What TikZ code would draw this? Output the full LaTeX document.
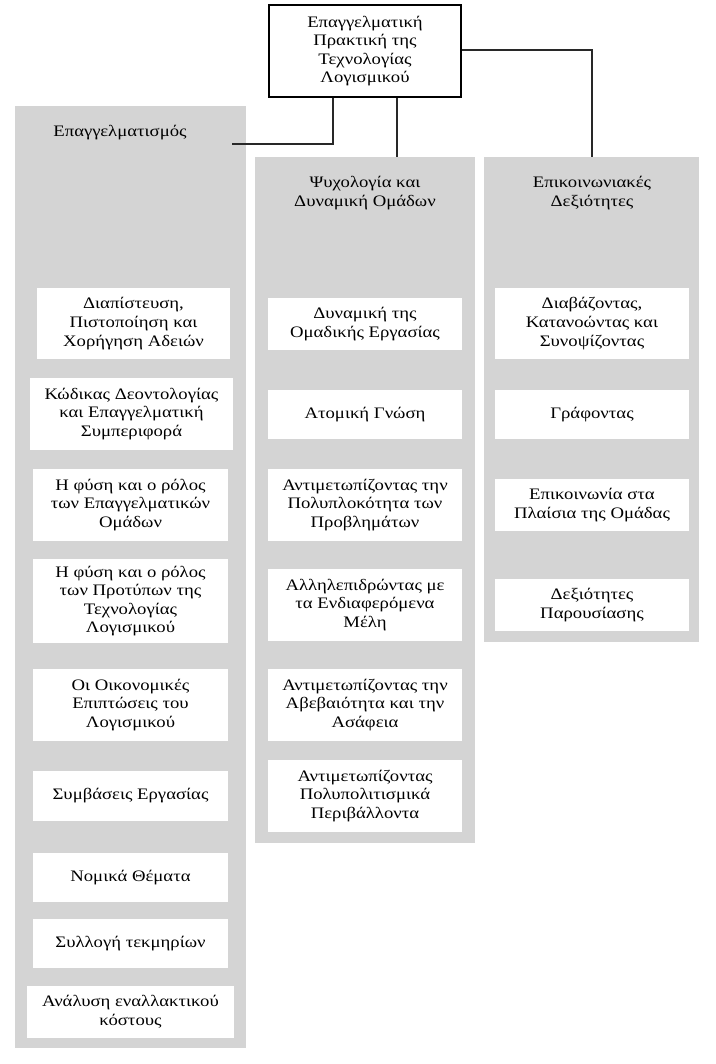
\documentclass[tikz,border=0pt]{standalone}
\usepackage{fontspec}
\setmainfont[FakeStretch=1.17]{Liberation Serif}
\definecolor{panelgray}{RGB}{212,212,212}
\definecolor{linkgray}{RGB}{40,40,40}
\begin{document}
\begin{tikzpicture}[x=1pt,y=-1pt,
  txt/.style={font=\fontsize{16}{18.6}\selectfont, align=center, inner sep=0pt},
  panel/.style={fill=panelgray, draw=none, inner sep=0pt},
  topbox/.style={txt, draw=black, line width=1.3pt, fill=white},
  itembox/.style={txt, fill=white, draw=none, minimum width=194pt},
  link/.style={draw=linkgray, line width=1.3pt}]
\useasboundingbox (0,0) rectangle (715,1064);

% root
\node[topbox, minimum width=192pt, minimum height=92pt] (root) at (365,51)
  {Επαγγελματική\\Πρακτική της\\Τεχνολογίας\\Λογισμικού};

% grey columns
\node[panel, minimum width=231pt, minimum height=942pt] (colA) at (130.5,577) {};
\node[panel, minimum width=220pt, minimum height=686pt] (colB) at (365,500) {};
\node[panel, minimum width=215pt, minimum height=485pt] (colC) at (591.5,399.5) {};

% column titles
\node[txt] (tA) at (120,133) {Επαγγελματισμός};
\node[txt] (tB) at (365,193) {Ψυχολογία και\\Δυναμική Ομάδων};
\node[txt] (tC) at (592,193) {Επικοινωνιακές\\Δεξιότητες};

% connectors
\coordinate (endA) at (232,144);
\draw[link] (root.south -| 333,0) -- (333,144) -- (endA);
\draw[link] (root.south -| 397,0) -- (colB.north -| 397,0);
\draw[link] (root.east |- 0,50) -- (592,50) -- (colC.north -| 592,0);

% first column
\node[itembox, minimum width=193pt, minimum height=71pt] (a1) at (133.5,323.5) {Διαπίστευση,\\Πιστοποίηση και\\Χορήγηση Αδειών};
\node[itembox, minimum width=203pt, minimum height=72pt] (a2) at (131.5,414) {Κώδικας Δεοντολογίας\\και Επαγγελματική\\Συμπεριφορά};
\node[itembox, minimum width=195pt, minimum height=72pt] (a3) at (130.5,505) {Η φύση και ο ρόλος\\των Επαγγελματικών\\Ομάδων};
\node[itembox, minimum width=195pt, minimum height=84pt] (a4) at (130.5,601) {Η φύση και ο ρόλος\\των Προτύπων της\\Τεχνολογίας\\Λογισμικού};
\node[itembox, minimum width=195pt, minimum height=72pt] (a5) at (130.5,705) {Οι Οικονομικές\\Επιπτώσεις του\\Λογισμικού};
\node[itembox, minimum width=195pt, minimum height=50pt] (a6) at (130.5,796) {Συμβάσεις Εργασίας};
\node[itembox, minimum width=195pt, minimum height=49pt] (a7) at (130.5,877.5) {Νομικά Θέματα};
\node[itembox, minimum width=195pt, minimum height=49pt] (a8) at (130.5,943.5) {Συλλογή τεκμηρίων};
\node[itembox, minimum width=207pt, minimum height=52pt] (a9) at (130.5,1012) {Ανάλυση εναλλακτικού\\κόστους};

% second column
\node[itembox, minimum height=52pt] (b1) at (365,324) {Δυναμική της\\Ομαδικής Εργασίας};
\node[itembox, minimum height=49pt] (b2) at (365,414.5) {Ατομική Γνώση};
\node[itembox, minimum height=72pt] (b3) at (365,505) {Αντιμετωπίζοντας την\\Πολυπλοκότητα των\\Προβλημάτων};
\node[itembox, minimum height=72pt] (b4) at (365,605) {Αλληλεπιδρώντας με\\τα Ενδιαφερόμενα\\Μέλη};
\node[itembox, minimum height=72pt] (b5) at (365,705) {Αντιμετωπίζοντας την\\Αβεβαιότητα και την\\Ασάφεια};
\node[itembox, minimum height=72pt] (b6) at (365,796) {Αντιμετωπίζοντας\\Πολυπολιτισμικά\\Περιβάλλοντα};

% third column
\node[itembox, minimum height=71pt] (c1) at (592,323.5) {Διαβάζοντας,\\Κατανοώντας και\\Συνοψίζοντας};
\node[itembox, minimum height=49pt] (c2) at (592,414.5) {Γράφοντας};
\node[itembox, minimum height=52pt] (c3) at (592,505) {Επικοινωνία στα\\Πλαίσια της Ομάδας};
\node[itembox, minimum height=52pt] (c4) at (592,605) {Δεξιότητες\\Παρουσίασης};
\end{tikzpicture}
\end{document}
